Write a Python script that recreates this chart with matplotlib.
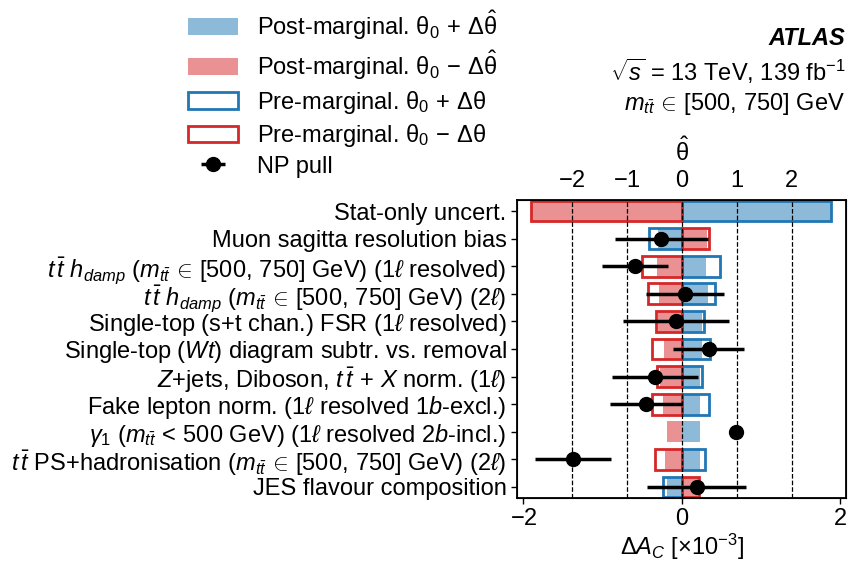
import numpy as np
import matplotlib
matplotlib.use("Agg")
import matplotlib.pyplot as plt
from matplotlib.patches import Patch

plt.rcParams['font.family'] = ['Liberation Sans', 'DejaVu Sans']
plt.rcParams['mathtext.fontset'] = 'custom'
plt.rcParams['mathtext.rm'] = 'Liberation Sans'
plt.rcParams['mathtext.it'] = 'Liberation Sans:italic'
plt.rcParams['mathtext.bf'] = 'Liberation Sans:bold'
plt.rcParams['font.size'] = 17

# --- dados ---
rotulos = [
    "Stat-only uncert.",
    "Muon sagitta resolution bias",
    r"$t\,\bar{t}\ h_{damp}$ ($m_{t\bar{t}}\,\in\,[500,\,750]$ GeV) (1$\ell$ resolved)",
    r"$t\,\bar{t}\ h_{damp}$ ($m_{t\bar{t}}\,\in\,[500,\,750]$ GeV) (2$\ell$)",
    r"Single-top (s+t chan.) FSR (1$\ell$ resolved)",
    r"Single-top ($Wt$) diagram subtr. vs. removal",
    r"$Z$+jets, Diboson, $t\,\bar{t}\,+\,X$ norm. (1$\ell$)",
    r"Fake lepton norm. (1$\ell$ resolved 1$b$-excl.)",
    r"$\gamma_1$ ($m_{t\bar{t}}\,<\,500$ GeV) (1$\ell$ resolved 2$b$-incl.)",
    r"$t\,\bar{t}$ PS+hadronisation ($m_{t\bar{t}}\,\in\,[500,\,750]$ GeV) (2$\ell$)",
    "JES flavour composition",
]

# impacto em Delta A_C [x10^-3]
post_up = [1.89, -0.30, 0.31, 0.33, 0.26, 0.25, 0.23, 0.23, 0.235, 0.23, -0.19]
post_down = [-1.90, 0.32, -0.31, -0.29, -0.30, -0.23, -0.27, -0.24, -0.19, -0.21, 0.20]
pre_up = [1.89, -0.41, 0.48, 0.42, 0.28, 0.36, 0.25, 0.35, 0.0, 0.30, -0.235]
pre_down = [-1.90, 0.345, -0.50, -0.43, -0.32, -0.38, -0.31, -0.37, 0.0, -0.34, 0.22]

# pulls (theta hat)
pull = [np.nan, -0.37, -0.85, 0.055, -0.11, 0.49, -0.49, -0.65, 0.99, -1.98, 0.27]
pull_err = [np.nan, 0.84, 0.60, 0.71, 0.96, 0.65, 0.79, 0.65, 0.03, 0.69, 0.90]

theta_ticks = [-2, -1, 0, 1, 2]
deltaA_ticks = [-2, 0, 2]

azul = '#1f77b4'
vermelho = '#d62728'

fig = plt.figure(figsize=(8.48, 5.61), dpi=100)
ax = fig.add_axes([0.6097, 0.1123, 0.388, 0.5312])

y = np.arange(len(rotulos))
altura = 0.75

ax.barh(y, post_up, height=altura, color=azul, alpha=0.5, linewidth=0)
ax.barh(y, post_down, height=altura, color=vermelho, alpha=0.5, linewidth=0)

pre_up_arr = np.array(pre_up)
pre_down_arr = np.array(pre_down)
tem_pre = pre_up_arr != 0
ax.barh(y[tem_pre], pre_up_arr[tem_pre], height=altura, fill=False,
        edgecolor=azul, linewidth=2)
ax.barh(y[tem_pre], pre_down_arr[tem_pre], height=altura, fill=False,
        edgecolor=vermelho, linewidth=2)

ax.set_yticks(y)
ax.set_yticklabels(rotulos)
ax.set_ylim(10.4, -0.4)
ax.set_xlim(-2.08, 2.075)
ax.set_xticks(deltaA_ticks)
ax.set_xticklabels([r'$-2$', '0', '2'])
ax.set_xlabel(r'$\Delta A_C\ [\times 10^{-3}]$', labelpad=1)
ax.tick_params(axis='both', direction='out', length=4, width=1)
for s in ax.spines.values():
    s.set_linewidth(1.3)

# eixo superior para os pulls
ax2 = ax.twiny()
ax2.set_xlim(-3.0, 2.99)
ax2.set_xticks(theta_ticks)
ax2.set_xticklabels([r'$-2$', r'$-1$', '0', '1', '2'])
ax2.tick_params(axis='x', length=0, pad=6)
ax2.set_xlabel(r'$\mathrm{\hat{\theta}}$', labelpad=6)
for t in theta_ticks:
    ax2.axvline(t, color='k', linestyle='--', linewidth=0.9, zorder=1)

pull_arr = np.array(pull)
err_arr = np.array(pull_err)
ok = ~np.isnan(pull_arr)
eb = ax2.errorbar(pull_arr[ok], y[ok], xerr=err_arr[ok], fmt='o', color='k',
                  markersize=10, elinewidth=2.5, capsize=0, zorder=3)

handles = [
    Patch(facecolor=azul, alpha=0.5, linewidth=0),
    Patch(facecolor=vermelho, alpha=0.5, linewidth=0),
    Patch(facecolor='none', edgecolor=azul, linewidth=2),
    Patch(facecolor='none', edgecolor=vermelho, linewidth=2),
    eb,
]
labels = [
    r'Post-marginal. $\mathrm{\theta}_0\,+\,\Delta\mathrm{\hat{\theta}}$',
    r'Post-marginal. $\mathrm{\theta}_0\,-\,\Delta\mathrm{\hat{\theta}}$',
    r'Pre-marginal. $\mathrm{\theta}_0\,+\,\Delta\mathrm{\theta}$',
    r'Pre-marginal. $\mathrm{\theta}_0\,-\,\Delta\mathrm{\theta}$',
    'NP pull',
]
fig.legend(handles, labels, loc='upper left', bbox_to_anchor=(0.222, 0.985),
           frameon=False, borderpad=0, borderaxespad=0, handlelength=2.1,
           handletextpad=0.8, labelspacing=0.28, fontsize=17)

fig.text(0.997, 0.920, 'ATLAS', ha='right', va='baseline', fontsize=17,
         fontweight='bold', fontstyle='italic')
fig.text(0.997, 0.856, r'$\sqrt{s}$ = 13 TeV, 139 fb$^{-1}$', ha='right',
         va='baseline', fontsize=17)
fig.text(0.997, 0.804, r'$m_{t\bar{t}}\,\in\,[500,\,750]$ GeV', ha='right',
         va='baseline', fontsize=17)

fig.savefig('out.png', dpi=100)
